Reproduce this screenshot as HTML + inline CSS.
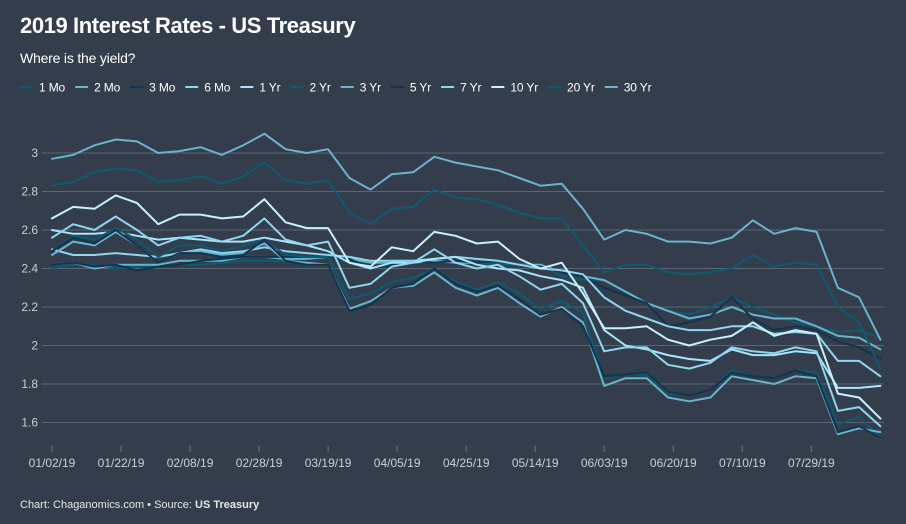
<!DOCTYPE html>
<html><head><meta charset="utf-8"><style>
body{margin:0;background:#333d4c;font-family:"Liberation Sans",sans-serif;}
#wrap{position:relative;width:906px;height:524px;background:#333d4c;overflow:hidden;}
.t{position:absolute;color:#fff;white-space:nowrap;}
</style></head><body>
<div id="wrap">
<div class="t" style="left:20px;top:13px;font-size:22px;font-weight:bold;letter-spacing:-0.4px;">2019 Interest Rates - US Treasury</div>
<div class="t" style="left:20px;top:50px;font-size:14px;letter-spacing:-0.2px;">Where is the yield?</div>
<div class="t" style="left:20px;top:499px;font-size:11px;color:#e6e6e6;">Chart: Chaganomics.com • Source: <b>US Treasury</b></div>
<svg id="svg" width="906" height="524" style="position:absolute;left:0;top:0"></svg>
</div>
<script>
const seriesNames=["1 Mo","2 Mo","3 Mo","6 Mo","1 Yr","2 Yr","3 Yr","5 Yr","7 Yr","10 Yr","20 Yr","30 Yr"];
const dayIndex=[0,4,8,12,16,20,24,28,32,36,40,44,48,52,56,60,64,68,72,76,80,84,88,92,96,100,104,108,112,116,120,124,128,132,136,140,144,148,152,156];
const tickDays=[0,13,26,39,52,65,78,91,104,117,130,143];
const tickLabels=["01/02/19","01/22/19","02/08/19","02/28/19","03/19/19","04/05/19","04/25/19","05/14/19","06/03/19","06/20/19","07/10/19","07/29/19"];
const yTicks=[1.6,1.8,2,2.2,2.4,2.6,2.8,3];
const yTickLabels=["1.6","1.8","2","2.2","2.4","2.6","2.8","3"];
const s1Mo=[2.40,2.42,2.42,2.40,2.41,2.41,2.42,2.42,2.43,2.44,2.44,2.44,2.45,2.46,2.46,2.43,2.44,2.44,2.43,2.43,2.43,2.42,2.42,2.42,2.36,2.34,2.34,2.28,2.22,2.18,2.16,2.20,2.25,2.20,2.16,2.12,2.10,2.07,2.08,2.04];
const s2Mo=[2.42,2.43,2.40,2.42,2.42,2.42,2.44,2.44,2.44,2.46,2.46,2.45,2.45,2.46,2.45,2.43,2.43,2.43,2.44,2.43,2.43,2.44,2.42,2.42,2.38,2.36,2.34,2.28,2.22,2.18,2.14,2.16,2.20,2.16,2.14,2.14,2.10,2.05,2.04,1.98];
const s3Mo=[2.42,2.43,2.41,2.42,2.39,2.41,2.42,2.44,2.45,2.46,2.46,2.46,2.46,2.46,2.45,2.40,2.42,2.44,2.43,2.44,2.43,2.44,2.42,2.41,2.38,2.36,2.30,2.26,2.22,2.10,2.12,2.15,2.25,2.14,2.08,2.10,2.08,2.02,1.99,1.93];
const s6Mo=[2.50,2.47,2.47,2.48,2.47,2.46,2.48,2.50,2.48,2.49,2.51,2.49,2.48,2.47,2.46,2.44,2.44,2.44,2.45,2.46,2.45,2.44,2.42,2.40,2.39,2.37,2.25,2.18,2.14,2.10,2.08,2.08,2.10,2.10,2.06,2.07,2.06,1.92,1.92,1.84];
const s1Yr=[2.60,2.58,2.58,2.59,2.57,2.55,2.56,2.55,2.54,2.54,2.56,2.54,2.52,2.49,2.43,2.40,2.43,2.43,2.45,2.46,2.42,2.40,2.39,2.36,2.34,2.30,2.08,2.00,1.98,1.95,1.93,1.92,1.98,1.95,1.95,1.97,1.96,1.78,1.78,1.79];
const s2Yr=[2.49,2.57,2.55,2.61,2.55,2.46,2.52,2.52,2.49,2.52,2.55,2.47,2.46,2.46,2.24,2.27,2.33,2.35,2.40,2.33,2.29,2.33,2.27,2.19,2.23,2.17,1.83,1.85,1.85,1.75,1.74,1.77,1.87,1.84,1.83,1.87,1.86,1.59,1.63,1.52];
const s3Yr=[2.47,2.54,2.52,2.59,2.52,2.43,2.48,2.49,2.47,2.48,2.53,2.44,2.43,2.42,2.19,2.23,2.30,2.31,2.38,2.30,2.26,2.30,2.22,2.15,2.20,2.12,1.79,1.83,1.83,1.73,1.71,1.73,1.84,1.82,1.80,1.84,1.83,1.54,1.57,1.55];
const s5Yr=[2.49,2.56,2.53,2.60,2.52,2.43,2.48,2.48,2.46,2.47,2.55,2.44,2.42,2.42,2.18,2.21,2.30,2.32,2.40,2.32,2.28,2.31,2.24,2.16,2.19,2.10,1.84,1.85,1.86,1.76,1.74,1.77,1.86,1.84,1.83,1.87,1.84,1.55,1.58,1.52];
const s7Yr=[2.56,2.63,2.60,2.67,2.60,2.52,2.56,2.57,2.54,2.57,2.66,2.55,2.52,2.54,2.30,2.32,2.41,2.43,2.50,2.43,2.40,2.42,2.36,2.29,2.32,2.22,1.97,1.99,1.99,1.90,1.88,1.91,1.99,1.97,1.96,1.99,1.97,1.66,1.68,1.58];
const s10Yr=[2.66,2.72,2.71,2.78,2.74,2.63,2.68,2.68,2.66,2.67,2.76,2.64,2.61,2.61,2.43,2.41,2.51,2.49,2.59,2.57,2.53,2.54,2.45,2.40,2.43,2.27,2.09,2.09,2.10,2.03,2.00,2.03,2.05,2.12,2.05,2.08,2.06,1.75,1.73,1.62];
const s20Yr=[2.83,2.85,2.90,2.92,2.91,2.85,2.86,2.88,2.84,2.88,2.95,2.86,2.84,2.86,2.69,2.63,2.71,2.72,2.81,2.77,2.76,2.73,2.69,2.66,2.66,2.52,2.38,2.42,2.42,2.38,2.37,2.38,2.40,2.47,2.41,2.43,2.42,2.20,2.12,1.88];
const s30Yr=[2.97,2.99,3.04,3.07,3.06,3.00,3.01,3.03,2.99,3.04,3.10,3.02,3.00,3.02,2.87,2.81,2.89,2.90,2.98,2.95,2.93,2.91,2.87,2.83,2.84,2.71,2.55,2.60,2.58,2.54,2.54,2.53,2.56,2.65,2.58,2.61,2.59,2.30,2.25,2.03];
const allSeries=[s1Mo,s2Mo,s3Mo,s6Mo,s1Yr,s2Yr,s3Yr,s5Yr,s7Yr,s10Yr,s20Yr,s30Yr];
const colors=["#0e5a70","#6ab4cc","#0f3550","#8fd6ef","#a8e6fa","#0e5a70","#6ab4cc","#0f3550","#8fd6ef","#c8f0ff","#0e5a70","#6ab4cc"];

const NS="http://www.w3.org/2000/svg";
const svg=document.getElementById('svg');
const x=d=>52+d*5.31;
const y=v=>153+(3-v)*192.5;
function mk(t,a){const e=document.createElementNS(NS,t);for(const k in a)e.setAttribute(k,a[k]);svg.appendChild(e);return e;}

yTicks.forEach((v,i)=>{
  const g=mk('line',{x1:42,x2:884,y1:y(v),y2:y(v),stroke:'#5b6574','stroke-width':1});
  
  
  const t=mk('text',{x:38,y:y(v)+4,'text-anchor':'end','font-size':12,fill:'#c9ced6','font-family':'Liberation Sans, sans-serif'});
  t.textContent=yTickLabels[i];
  
  
});
tickDays.forEach((d,i)=>{
  const m=mk('line',{x1:x(d),x2:x(d),y1:446,y2:452,stroke:'#6b7482','stroke-width':1});
  
  
  const t=mk('text',{x:x(d),y:467,'text-anchor':'middle','font-size':12,fill:'#c9ced6','font-family':'Liberation Sans, sans-serif'});
  t.textContent=tickLabels[i];
  
  
});
allSeries.forEach((s,i)=>{
  const pts=s.map((v,j)=>x(dayIndex[j]).toFixed(1)+','+y(v).toFixed(1)).join(' ');
  const p=mk('polyline',{points:pts,fill:'none',stroke:colors[i],'stroke-width':2,'stroke-linejoin':'round','stroke-linecap':'round'});
  
  
});
// legend
let lx=20;
seriesNames.forEach((n,i)=>{
  const l=mk('line',{x1:lx,x2:lx+13,y1:87,y2:87,stroke:colors[i],'stroke-width':2});
  
  
  const t=mk('text',{x:lx+19,y:91.5,'font-size':12,fill:'#ffffff','font-family':'Liberation Sans, sans-serif','letter-spacing':'-0.15'});
  t.textContent=n;
  
  
  lx+=19+t.getComputedTextLength()+10;
});
</script>
</body></html>
